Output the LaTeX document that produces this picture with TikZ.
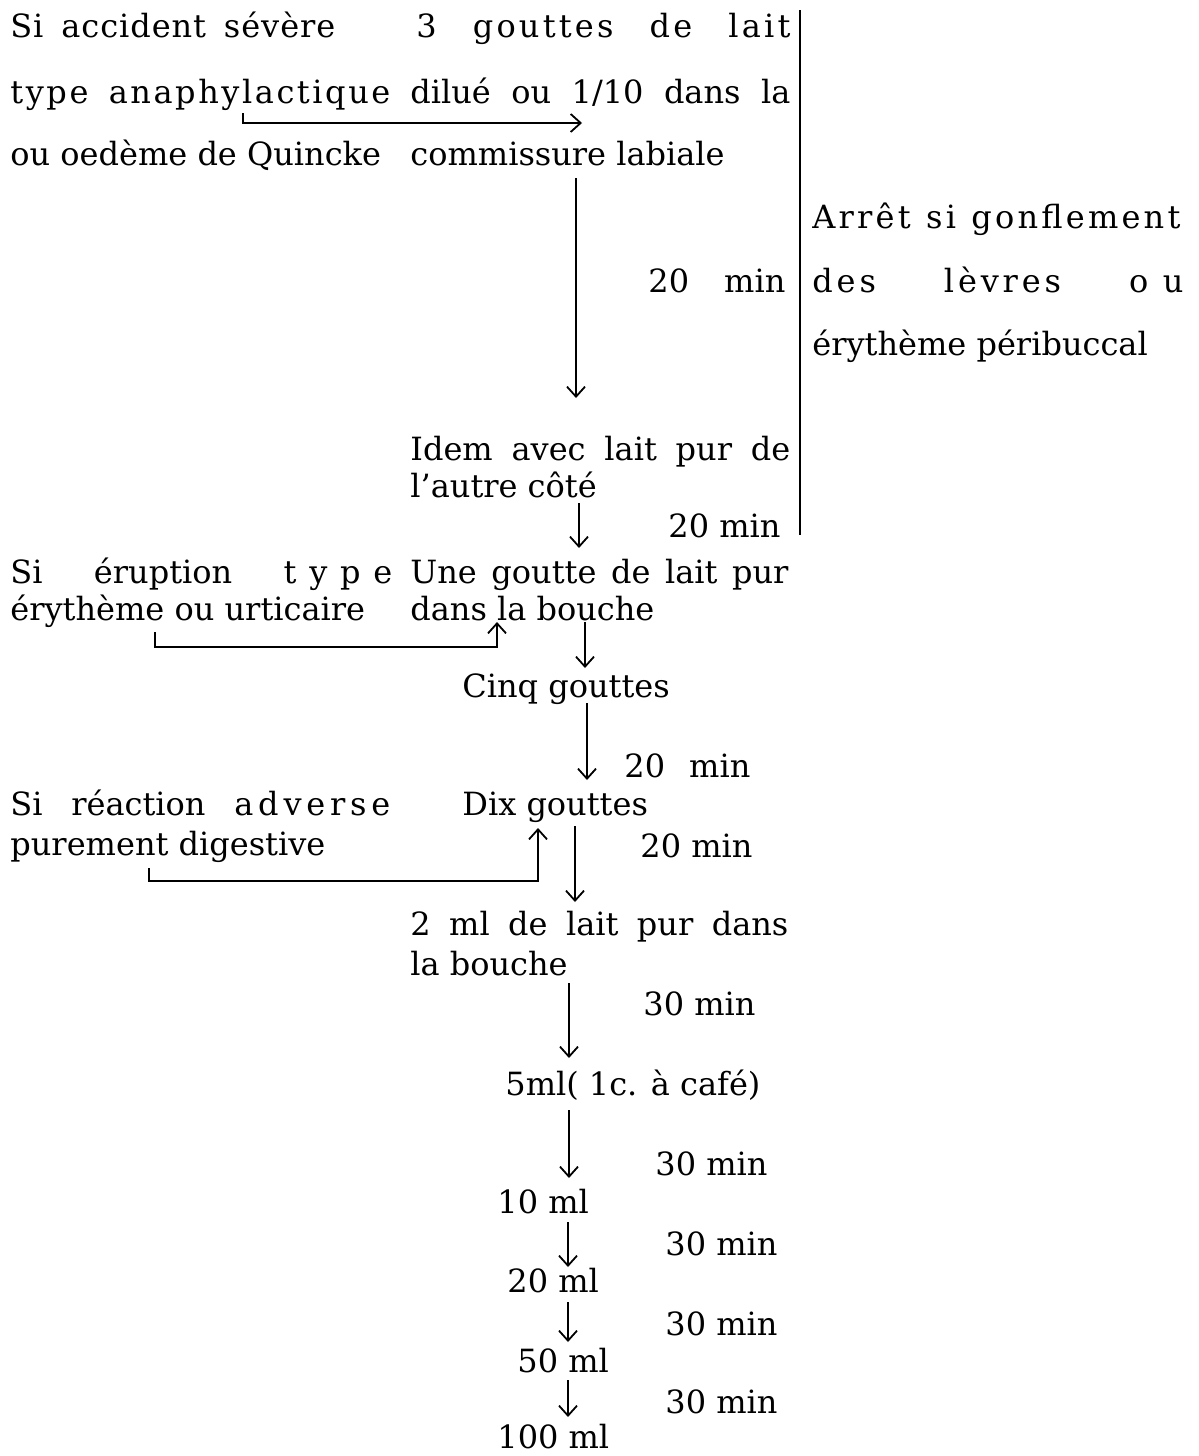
\documentclass[tikz,border=0pt]{standalone}
\usepackage{fontspec}
\setmainfont{DejaVu Serif}
\usetikzlibrary{arrows.meta}
% spread a line to a given width (in px of the scan), optional letter spacing
\newcommand{\spread}[3][0]{{\addfontfeatures{LetterSpace=#1}\makebox[\dimexpr #2pt/2\relax][s]{#3}}}

\begin{document}
\begin{tikzpicture}[x=0.5pt,y=-0.5pt,
  txt/.style={anchor=base west,inner sep=0pt,font=\fontsize{16}{19}\selectfont},
  arr/.style={line width=0.9pt,-{Straight Barb[length=5pt,width=9pt]}},
  rule/.style={line width=0.9pt}]
  \useasboundingbox (0,0) rectangle (1199,1456);
  % left column
  \node[txt] (sev1) at (10,38) {\spread[3]{325}{Si accident sévère}};
  \node[txt] (sev2) at (10,103) {\spread[8]{380}{type anaphylactique}};
  \node[txt] (sev3) at (10,165) {ou oedème de Quincke};
  \node[txt] (eru1) at (10,583) {\spread{382}{Si éruption {\addfontfeatures{LetterSpace=40}type}}};
  \node[txt] (eru2) at (10,620) {érythème ou urticaire};
  \node[txt] (dig1) at (10,815) {\spread{380}{Si réaction {\addfontfeatures{LetterSpace=15}adverse}}};
  \node[txt] (dig2) at (10,855) {purement digestive};
  % middle column
  \node[txt] (lab1) at (416,38) {\spread[10]{374}{3 gouttes de lait}};
  \node[txt] (lab2) at (410,103) {\spread{380}{dilué ou 1/10 dans la}};
  \node[txt] (lab3) at (410,165) {commissure labiale};
  \node[txt] (idem1) at (410,460) {\spread{380}{Idem avec lait pur de}};
  \node[txt] (idem2) at (410,497) {l'autre côté};
  \node[txt] (une1) at (410,583) {\spread{378}{Une goutte de lait pur}};
  \node[txt] (une2) at (410,620) {dans la bouche};
  \node[txt] (cinq) at (462,697) {Cinq gouttes};
  \node[txt] (dix) at (462,815) {Dix gouttes};
  \node[txt] (deux1) at (410,935) {\spread{378}{2 ml de lait pur dans}};
  \node[txt] (deux2) at (410,975) {la bouche};
  \node[txt] (cinqml) at (505,1095) {5ml( 1c. à café)};
  \node[txt] (dixml) at (497,1213) {10 ml};
  \node[txt] (vingtml) at (507,1292) {20 ml};
  \node[txt] (cinqtml) at (517,1372) {50 ml};
  \node[txt] (centml) at (497,1448) {100 ml};
  % delays
  \node[txt] (d1) at (648,292) {\spread{137}{20 min}};
  \node[txt] (d2) at (668,537) {20 min};
  \node[txt] (d3) at (624,777) {\spread{126}{20 min}};
  \node[txt] (d4) at (640,857) {20 min};
  \node[txt] (d5) at (643,1015) {30 min};
  \node[txt] (d6) at (655,1175) {30 min};
  \node[txt] (d7) at (665,1255) {30 min};
  \node[txt] (d8) at (665,1335) {30 min};
  \node[txt] (d9) at (665,1413) {30 min};
  % right column
  \node[txt] (arr1) at (812,228) {\spread[10]{368}{Arrêt si gonflement}};
  \node[txt] (arr2) at (812,292) {\spread[12]{371}{des lèvres {\addfontfeatures{LetterSpace=45}ou}}};
  \node[txt] (arr3) at (812,355) {érythème péribuccal};
  % bar
  \coordinate (bartop) at (800,10);
  \coordinate (barbot) at (800,535);
  \draw[rule] (bartop) -- (barbot);
  % down arrows
  \foreach \n/\x/\ya/\yb in {1/576/178/398, 2/579/503/548, 3/585/622/668, 4/587/703/780,
      5/575/826/902, 6/569/983/1058, 7/569/1110/1178, 8/568/1222/1267,
      9/568/1302/1342, 10/568/1380/1417}{
    \coordinate (s\n) at (\x,\ya);
    \coordinate (e\n) at (\x,\yb);
    \draw[arr] (s\n) -- (e\n);
  }
  % side arrows
  \coordinate (f0a) at (243,113);
  \coordinate (f0b) at (582,123);
  \draw[arr] (f0a) |- (f0b);
  \coordinate (f1a) at (155,632);
  \coordinate (f1b) at (497,622);
  \draw[arr] (f1a) -- ++(0,15) -| (f1b);
  \coordinate (f2a) at (149,868);
  \coordinate (f2b) at (538,828);
  \draw[arr] (f2a) -- ++(0,13) -| (f2b);
\end{tikzpicture}
\end{document}
